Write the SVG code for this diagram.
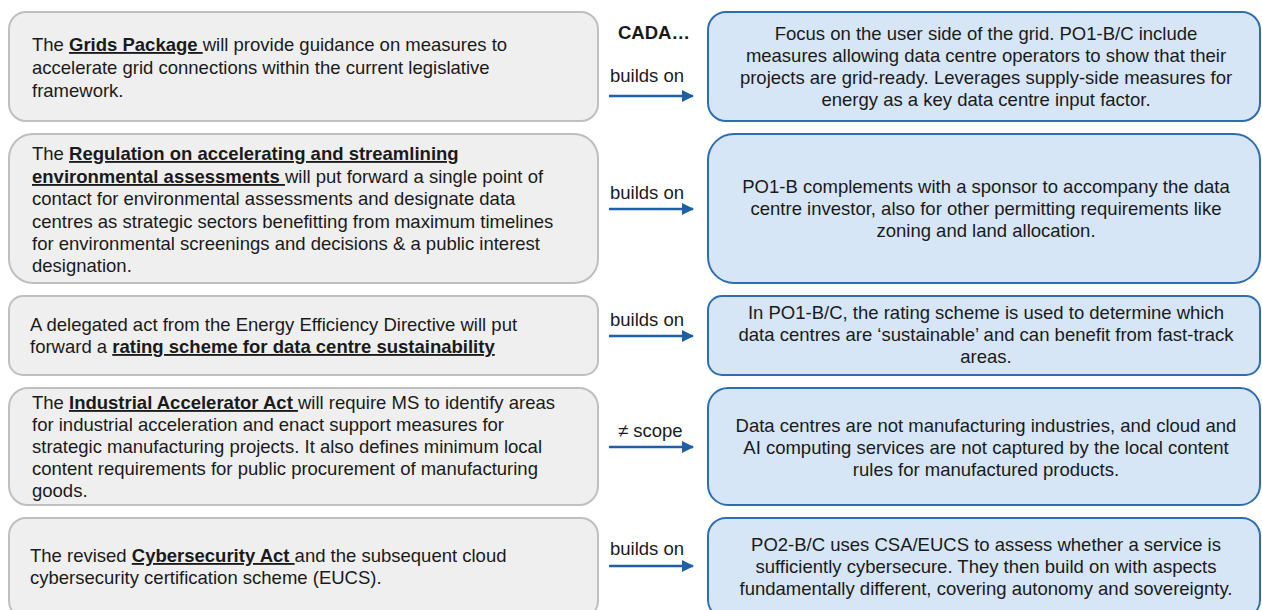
<svg xmlns="http://www.w3.org/2000/svg" width="1262" height="610" viewBox="0 0 1262 610">
<style>
text{font-family:"Liberation Sans",Arial,sans-serif;font-size:18.5px;fill:#1a1a1a}
.l{fill:#efefef;stroke:#bfbfbf;stroke-width:2}
.r{fill:#d6e6f6;stroke:#2f6db3;stroke-width:2}
.c{text-anchor:middle}
.b{font-weight:bold;text-decoration:underline}
.a{stroke:#1f5fa8;stroke-width:2.5;fill:none;marker-end:url(#ah)}
.lb{font-size:18.5px}
</style>
<defs>
<marker id="ah" viewBox="0 0 12 12" refX="11" refY="6" markerWidth="12" markerHeight="12" markerUnits="userSpaceOnUse" orient="auto">
<path d="M0,0 L12,6 L0,12 Z" fill="#1f5fa8"/>
</marker>
</defs>
<rect width="1262" height="610" fill="#ffffff"/>

<g id="left1">
<rect class="l" x="9" y="12" width="589" height="109" rx="17"/>
<text x="32" y="51">The <tspan class="b">Grids Package </tspan>will provide guidance on measures to</text>
<text x="32" y="74">accelerate grid connections within the current legislative</text>
<text x="32" y="97">framework.</text>
</g>
<g id="left2">
<rect class="l" x="9" y="134" width="589" height="149" rx="24"/>
<text x="32" y="160">The <tspan class="b">Regulation on accelerating and streamlining</tspan></text>
<text x="32" y="183"><tspan class="b">environmental assessments </tspan>will put forward a single point of</text>
<text x="32" y="205">contact for environmental assessments and designate data</text>
<text x="32" y="228">centres as strategic sectors benefitting from maximum timelines</text>
<text x="32" y="250">for environmental screenings and decisions &amp; a public interest</text>
<text x="32" y="272">designation.</text>
</g>
<g id="left3">
<rect class="l" x="9" y="296" width="589" height="79" rx="14"/>
<text x="30" y="331">A delegated act from the Energy Efficiency Directive will put</text>
<text x="30" y="353">forward a <tspan class="b">rating scheme for data centre sustainability</tspan></text>
</g>
<g id="left4">
<rect class="l" x="9" y="388" width="589" height="117" rx="19"/>
<text x="32" y="409">The <tspan class="b">Industrial Accelerator Act </tspan>will require MS to identify areas</text>
<text x="32" y="431">for industrial acceleration and enact support measures for</text>
<text x="32" y="453">strategic manufacturing projects. It also defines minimum local</text>
<text x="32" y="475">content requirements for public procurement of manufacturing</text>
<text x="32" y="497">goods.</text>
</g>
<g id="left5">
<rect class="l" x="9" y="518" width="589" height="100" rx="17"/>
<text x="30" y="562">The revised <tspan class="b">Cybersecurity Act </tspan>and the subsequent cloud</text>
<text x="30" y="584">cybersecurity certification scheme (EUCS).</text>
</g>

<g id="right1">
<rect class="r" x="708" y="12" width="552" height="109" rx="18"/>
<text class="c" x="986" y="40">Focus on the user side of the grid. PO1-B/C include</text>
<text class="c" x="986" y="62">measures allowing data centre operators to show that their</text>
<text class="c" x="986" y="84">projects are grid-ready. Leverages supply-side measures for</text>
<text class="c" x="986" y="106">energy as a key data centre input factor.</text>
</g>
<g id="right2">
<rect class="r" x="708" y="134" width="552" height="149" rx="26"/>
<text class="c" x="986" y="193">PO1-B complements with a sponsor to accompany the data</text>
<text class="c" x="986" y="215">centre investor, also for other permitting requirements like</text>
<text class="c" x="986" y="237">zoning and land allocation.</text>
</g>
<g id="right3">
<rect class="r" x="708" y="296" width="552" height="79" rx="14"/>
<text class="c" x="986" y="319">In PO1-B/C, the rating scheme is used to determine which</text>
<text class="c" x="986" y="341">data centres are ‘sustainable’ and can benefit from fast-track</text>
<text class="c" x="986" y="363">areas.</text>
</g>
<g id="right4">
<rect class="r" x="708" y="388" width="552" height="117" rx="20"/>
<text class="c" x="986" y="432">Data centres are not manufacturing industries, and cloud and</text>
<text class="c" x="986" y="454">AI computing services are not captured by the local content</text>
<text class="c" x="986" y="476">rules for manufactured products.</text>
</g>
<g id="right5">
<rect class="r" x="708" y="518" width="552" height="100" rx="18"/>
<text class="c" x="986" y="551">PO2-B/C uses CSA/EUCS to assess whether a service is</text>
<text class="c" x="986" y="573">sufficiently cybersecure. They then build on with aspects</text>
<text class="c" x="986" y="595">fundamentally different, covering autonomy and sovereignty.</text>
</g>

<g id="header">
<text x="618" y="39" font-weight="bold">CADA…</text>
</g>

<g id="connectors">
<line class="a" x1="609" y1="96" x2="693" y2="96"/>
<line class="a" x1="609" y1="209" x2="693" y2="209"/>
<line class="a" x1="609" y1="336" x2="693" y2="336"/>
<line class="a" x1="609" y1="447" x2="693" y2="447"/>
<line class="a" x1="609" y1="566" x2="693" y2="566"/>
<text class="lb" x="610" y="82">builds on</text>
<text class="lb" x="610" y="199">builds on</text>
<text class="lb" x="610" y="326">builds on</text>
<text class="lb" x="618" y="437">≠ scope</text>
<text class="lb" x="610" y="555">builds on</text>
</g>
</svg>
